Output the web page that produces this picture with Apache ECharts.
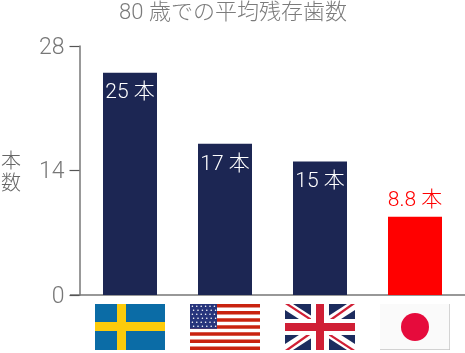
<!DOCTYPE html>
<html>
<head>
    <meta charset="UTF-8">
    <title>80 歳での平均残存歯数</title>
    <script src="https://cdn.jsdelivr.net/npm/echarts@6/dist/echarts.min.js"></script>
    <style>
        html, body { margin: 0; padding: 0; background: #fff; }
        #main { width: 465px; height: 353px; }
    </style>
</head>
<body>
<div id="main"></div>
<script>
    var countries = ['スウェーデン', 'アメリカ', 'イギリス', '日本'];
    var teeth = [25, 17, 15, 8.8];
    var yTicks = [0, 14, 28];
    var titleText = '80 歳での平均残存歯数';
    var yName = '本\n数';
    var unit = ' 本';

    var FONT = 'Roboto, "Noto Sans CJK JP", sans-serif';
    var NAVY = '#1c2653';

    // flags are 70x46, drawn around (0,0) = top left
    function rect(x, y, w, h, fill) {
        return { type: 'rect', shape: { x: x, y: y, width: w, height: h }, style: { fill: fill } };
    }
    function poly(points, fill) {
        return { type: 'polygon', shape: { points: points }, style: { fill: fill } };
    }
    function sweden() {
        return [
            rect(0, 0, 70, 46, '#0b6ca6'),
            rect(22, 0, 9, 46, '#fdcb0a'),
            rect(0, 18, 70, 9, '#fdcb0a')
        ];
    }
    function usa() {
        var out = [rect(0, 0, 70, 46, '#fff')];
        for (var i = 0; i < 7; i++) {
            out.push(rect(0, i * 7.08, 70, 3.54, '#c9230f'));
        }
        out.push(rect(0, 0, 27, 24.8, '#27357c'));
        for (var r = 0; r < 6; r++) {
            for (var c = 0; c < 6; c++) {
                out.push({
                    type: 'circle',
                    shape: { cx: 2.4 + c * 4.4 + (r % 2) * 1.2, cy: 2.3 + r * 4, r: 0.8 },
                    style: { fill: '#fff' }
                });
            }
        }
        return out;
    }
    function uk() {
        return [
            rect(0, 0, 70, 46, '#1c2c5e'),
            poly([[0, 0], [8, 0], [70, 40], [70, 46], [62, 46], [0, 6]], '#fff'),
            poly([[70, 0], [62, 0], [0, 40], [0, 46], [8, 46], [70, 6]], '#fff'),
            poly([[0, 0], [4, 0], [30, 17], [26, 17]], '#d01f35'),
            poly([[70, 46], [66, 46], [40, 29], [44, 29]], '#d01f35'),
            poly([[70, 0], [66, 0], [42, 17], [46, 17]], '#d01f35'),
            poly([[0, 46], [4, 46], [28, 29], [24, 29]], '#d01f35'),
            rect(26, 0, 18, 46, '#fff'),
            rect(0, 15, 70, 16, '#fff'),
            rect(31, 0, 8, 46, '#d01f35'),
            rect(0, 19, 70, 8, '#d01f35')
        ];
    }
    function japan() {
        return [
            rect(0, 0, 70, 46, '#c4c4c4'),
            rect(0, 0, 69.3, 45.3, '#fafafa'),
            { type: 'circle', shape: { cx: 35, cy: 23, r: 14 }, style: { fill: '#e60b3c' } }
        ];
    }
    var flagDrawers = [sweden, usa, uk, japan];

    var chart = echarts.init(document.getElementById('main'), null, { renderer: 'canvas' });

    var option = {
        animation: false,
        backgroundColor: '#fff',
        title: [
            {
                text: titleText,
                left: 228,
                top: -3,
                textAlign: 'center',
                textStyle: { color: '#7b7b7b', fontFamily: FONT, fontSize: 22, fontWeight: 300 }
            },
            {
                // y axis name sits lower than the axis middle
                text: yName,
                left: 1,
                top: 152,
                padding: 0,
                textStyle: { color: '#666', fontFamily: FONT, fontSize: 20, lineHeight: 22, fontWeight: 300 }
            }
        ],
        grid: { left: 82.5, right: 2.5, top: 46, bottom: 58, outerBoundsMode: 'none' },
        xAxis: {
            type: 'category',
            data: countries,
            axisLine: { show: false },
            axisTick: { show: false },
            axisLabel: { show: false }
        },
        yAxis: {
            type: 'value',
            min: 0,
            max: 28,
            interval: 14,
            offset: 3,
            axisLine: { show: true, lineStyle: { color: '#777', width: 1.5 } },
            axisTick: { show: true, length: 10, lineStyle: { color: '#555', width: 1.2 } },
            axisLabel: {
                margin: 15,
                customValues: yTicks,
                formatter: '{v|{value}}',
                rich: {
                    v: {
                        color: '#777',
                        fontFamily: FONT,
                        fontSize: 23,
                        fontWeight: 300,
                        padding: [4, 0, 0, 0]
                    }
                }
            },
            splitLine: { show: false }
        },
        series: [
            {
                type: 'bar',
                barWidth: 54,
                data: teeth.map(function (v, i) {
                    var isJapan = i === teeth.length - 1;
                    return {
                        value: v,
                        itemStyle: { color: isJapan ? '#ff0000' : NAVY },
                        label: isJapan
                            ? { position: 'top', distance: 5, color: '#ff0000' }
                            : { position: 'insideTop', distance: 10, color: '#fff' }
                    };
                }),
                label: {
                    show: true,
                    fontFamily: FONT,
                    fontSize: 21,
                    fontWeight: 300,
                    formatter: function (p) { return p.value + unit; }
                }
            },
            {
                // flags under the axis, one per category
                type: 'custom',
                clip: false,
                silent: true,
                data: countries.map(function (c, i) { return [i, 0]; }),
                renderItem: function (params, api) {
                    var p = api.coord([api.value(0), 0]);
                    return {
                        type: 'group',
                        x: Math.round(p[0] - 35),
                        y: p[1] + 9,
                        children: flagDrawers[params.dataIndex]()
                    };
                }
            }
        ]
    };
    chart.setOption(option);

    // baseline runs past the plot on both sides
    var zero = chart.convertToPixel({ yAxisIndex: 0 }, 0);
    chart.setOption({
        graphic: [{
            type: 'line',
            shape: { x1: 70, y1: zero, x2: 465, y2: zero },
            style: { stroke: '#333', lineWidth: 1.2 }
        }]
    });
</script>
</body>
</html>
